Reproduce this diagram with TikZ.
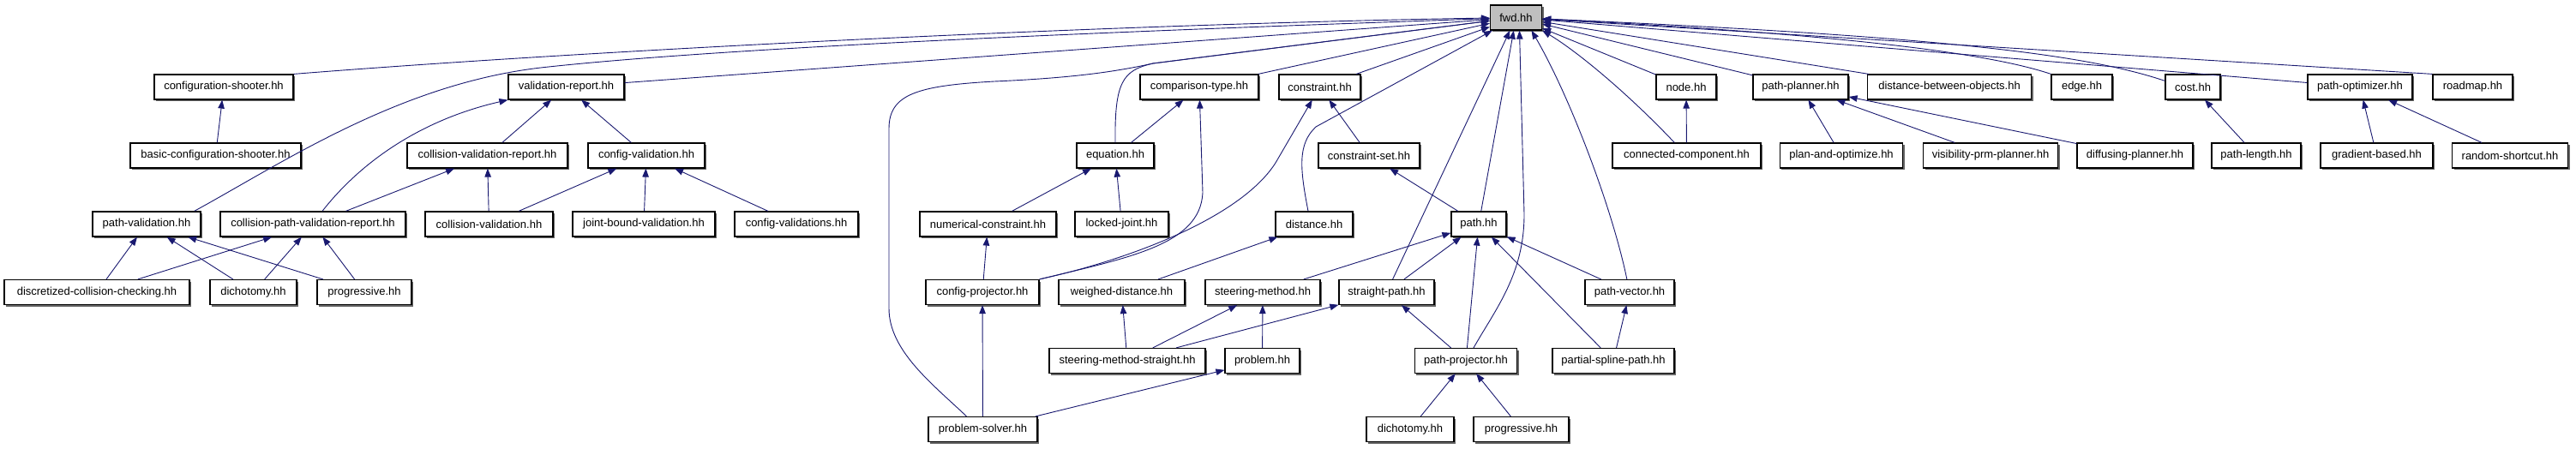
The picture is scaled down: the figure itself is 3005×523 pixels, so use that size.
\documentclass[tikz,border=0pt]{standalone}
\usepackage{fontspec}
\setmainfont{Liberation Sans}
\usetikzlibrary{arrows.meta,shadows}

\definecolor{edgeblue}{HTML}{191970}
\definecolor{rootgray}{HTML}{BFBFBF}

\begin{document}
\begin{tikzpicture}[x=1pt, y=-1pt,
    hdr/.style={draw=black, line width=1.2pt, fill=white, inner sep=0pt,
      minimum height=29pt, font=\fontsize{13}{15}\selectfont,
      drop shadow={shadow xshift=2pt, shadow yshift=-2pt,
        fill=black!60, opacity=1}},
    dep/.style={draw=edgeblue, line width=0.9pt,
      -{Triangle[length=10pt, width=7.5pt]}}]

  \useasboundingbox (0,0) rectangle (3005,523);

  % ============================================================
  % Headers, one row per include depth
  %   (x = centre, y = centre, w = box width, all in px)
  % ============================================================
  \node[hdr, fill=rootgray, minimum width=60pt] (fwd) at (1768.5,20.5) {fwd.hh};

  % row 1
  \foreach \id/\cx/\w/\txt in {
      cfgshooter/261/162/configuration-shooter.hh,
      valreport/660.5/135/validation-report.hh,
      comptype/1399/138/comparison-type.hh,
      constraint/1539.5/95/constraint.hh,
      node/1967/70/node.hh,
      pathplanner/2100.5/111/path-planner.hh,
      dbo/2274/191/distance-between-objects.hh,
      edge/2428.5/71/edge.hh,
      cost/2558/64/cost.hh,
      pathopt/2753/122/path-optimizer.hh,
      roadmap/2884.5/93/roadmap.hh}
    \node[hdr, minimum width=\w pt] (\id) at (\cx,101.5) {\txt};

  % row 2
  \foreach \id/\cx/\w/\txt in {
      basicshooter/251.5/199/basic-configuration-shooter.hh,
      cvreport/568.5/187/collision-validation-report.hh,
      cfgval/754/136/config-validation.hh,
      equation/1301/90/equation.hh,
      cset/1597/118/constraint-set.hh,
      concomp/1967.5/173/connected-component.hh,
      planopt/2148/143.5/plan-and-optimize.hh,
      visprm/2322/157/visibility-prm-planner.hh,
      diffusing/2490.5/135/diffusing-planner.hh,
      pathlength/2632/104/path-length.hh,
      gradient/2772.5/131/gradient-based.hh,
      randshort/2928/135/random-shortcut.hh}
    \node[hdr, minimum width=\w pt] (\id) at (\cx,181.5) {\txt};

  % row 3
  \foreach \id/\cx/\w/\txt in {
      pathval/171/126/path-validation.hh,
      cpvreport/365/216/collision-path-validation-report.hh,
      colval/570.5/149/collision-validation.hh,
      jointbound/751/166/joint-bound-validation.hh,
      cfgvals/929/144/config-validations.hh,
      numcon/1152.5/159/numerical-constraint.hh,
      lockedjoint/1308.5/109/locked-joint.hh,
      distance/1533/90/distance.hh,
      path/1725/64/path.hh}
    \node[hdr, minimum width=\w pt] (\id) at (\cx,261.5) {\txt};

  % row 4
  \foreach \id/\cx/\w/\txt in {
      dcc/113/216/discretized-collision-checking.hh,
      dichoL/295.5/101/dichotomy.hh,
      progL/425/110/progressive.hh,
      cfgproj/1146/132/config-projector.hh,
      weighed/1308.5/147/weighed-distance.hh,
      steering/1473/134/steering-method.hh,
      straight/1617.5/111/straight-path.hh,
      pathvec/1901/104/path-vector.hh}
    \node[hdr, minimum width=\w pt] (\id) at (\cx,341) {\txt};

  % rows 5 and 6
  \foreach \id/\cx/\cy/\w/\txt in {
      sms/1315/421/182/steering-method-straight.hh,
      problem/1472.5/421/87/problem.hh,
      pathproj/1710/421/119.5/path-projector.hh,
      partial/1882/421/142/partial-spline-path.hh,
      psolver/1146.5/501/127/problem-solver.hh,
      dichoR/1645/501/102/dichotomy.hh,
      progR/1774.5/501/111/progressive.hh}
    \node[hdr, minimum width=\w pt] (\id) at (\cx,\cy) {\txt};

  % ============================================================
  % Include edges (arrow points at the included header)
  % ============================================================
  \foreach \src in {valreport, comptype, constraint, straight, path,
                    node, pathplanner, dbo, pathopt}
    \draw[dep] (\src) -- (fwd);
  \draw[dep] (roadmap.north west) -- (fwd);

  \foreach \a/\b in {
      basicshooter/cfgshooter,
      cvreport/valreport, cfgval/valreport,
      cpvreport/cvreport, colval/cvreport,
      colval/cfgval, jointbound/cfgval, cfgvals/cfgval,
      dcc/pathval, dcc/cpvreport,
      dichoL/pathval, dichoL/cpvreport,
      progL/pathval, progL/cpvreport,
      equation/comptype, cset/constraint,
      numcon/equation, lockedjoint/equation, cfgproj/numcon,
      path/cset, weighed/distance,
      steering/path, straight/path, pathproj/path, pathvec/path, partial/path,
      sms/weighed, sms/steering, sms/straight, problem/steering,
      pathproj/straight, partial/pathvec,
      psolver/cfgproj, psolver/problem,
      dichoR/pathproj, progR/pathproj,
      concomp/node,
      planopt/pathplanner, visprm/pathplanner, diffusing/pathplanner,
      pathlength/cost, gradient/pathopt, randshort/pathopt}
    \draw[dep] (\a) -- (\b);

  % curved ones
  \draw[dep] (cfgshooter.north east) .. controls (700,58) and (1300,28) .. (fwd);
  \draw[dep] ([xshift=-8pt]pathval.north east) .. controls (330,190) and (470,95)
    .. (640,78) .. controls (900,50) and (1500,30) .. (fwd);
  \draw[dep] ([xshift=11pt]cpvreport.north) .. controls (420,190) and (490,140)
    .. (valreport.south west);

  \draw[dep] ([xshift=-19pt]psolver.north) .. controls (1090,450) and (1037,410)
    .. (1037,360) -- (1037,150) .. controls (1037,110) and (1070,100)
    .. (1160,95) .. controls (1250,91) and (1300,84) .. (1345,74) -- (fwd);
  \draw[dep] (equation.north) .. controls (1300,95) and (1310,82) .. (1345,74) -- (fwd);
  \draw[dep] ([xshift=-7pt]distance.north) .. controls (1516,195) and (1514,168)
    .. (1535,148) -- (fwd);

  \draw[dep] (cfgproj.north east) .. controls (1320,300) and (1400,285)
    .. (1403,225) -- (comptype);
  \draw[dep] (cfgproj.north east) .. controls (1330,300) and (1450,250)
    .. (1488,190) -- (constraint);

  \draw[dep] ([xshift=9pt]pathproj.north) .. controls (1745,360) and (1778,320)
    .. (1778,250) -- ([xshift=4pt]fwd.south);
  \draw[dep] (pathvec) .. controls (1880,240) and (1830,110) .. ([xshift=18pt]fwd.south);
  \draw[dep] (concomp) .. controls (1900,110) and (1840,60) .. (fwd.south east);

  \draw[dep] (edge.north west) .. controls (2320,62) and (2150,40) .. (fwd);
  \draw[dep] ([yshift=-8pt]cost.north west) .. controls (2430,62) and (2250,42) .. (fwd);

\end{tikzpicture}
\end{document}
